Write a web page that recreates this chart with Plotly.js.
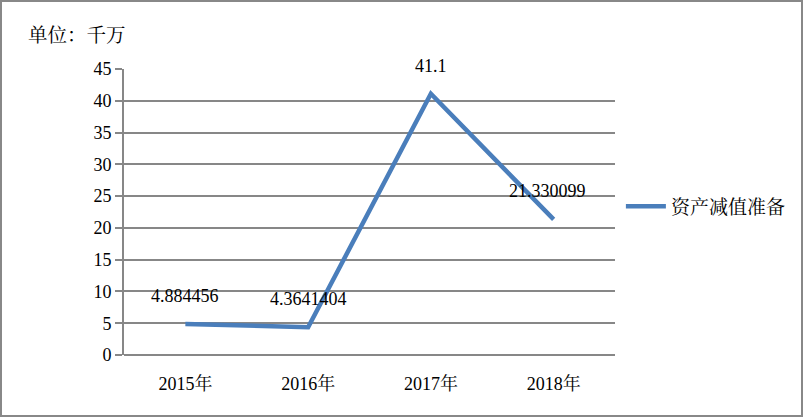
<!DOCTYPE html>
<html><head><meta charset="utf-8">
<script src="https://cdn.plot.ly/plotly-3.0.1.min.js"></script>
<style>
html,body{margin:0;padding:0;background:#fff;}
#wrap{position:relative;width:803px;height:417px;}
#chart{width:803px;height:417px;}
#border{position:absolute;left:0;top:0;width:803px;height:417px;box-sizing:border-box;border:2px solid #888;pointer-events:none;}
</style></head>
<body>
<div id="wrap"><div id="chart"></div><div id="border"></div></div>
<script>
var categories = ["2015年", "2016年", "2017年", "2018年"];
var values = [4.884456, 4.3641404, 41.1, 21.330099];
var valueLabels = ["4.884456", "4.3641404", "41.1", "21.330099"];
var seriesName = "资产减值准备";
var unitTitle = "单位：千万";
var yTicks = [0, 5, 10, 15, 20, 25, 30, 35, 40, 45];

var font = "Times New Roman, Liberation Serif, Noto Serif CJK SC, Noto Sans CJK SC, serif";
var grid = "#878787";

var trace = {
  x: categories, y: values, type: "scatter", mode: "lines", name: seriesName,
  line: {color: "#4a7ebb", width: 4.5}
};

var anns = categories.map(function(c, i){
  return {x: c, y: values[i], xref: "x", yref: "y", text: valueLabels[i], showarrow: false,
    yshift: 28, xshift: (i === 3 ? -6 : 0),
    font: {family: font, size: 18, color: "#000"}};
});

var layout = {
  width: 803, height: 417,
  margin: {l: 124, r: 188, t: 69, b: 62},
  paper_bgcolor: "#fff", plot_bgcolor: "#fff",
  font: {family: font, size: 18, color: "#000"},
  title: {text: unitTitle, x: 28/803, xanchor: "left", xref: "container", y: 1 - 35/417, yanchor: "middle", yref: "container",
    font: {family: font, size: 19.5, color: "#000"}},
  xaxis: {type: "category", range: [-0.5, 3.5], showgrid: false, zeroline: false, showline: false,
    ticks: "", tickfont: {family: font, size: 18, color: "#000"}, ticklabelstandoff: 16, fixedrange: true},
  yaxis: {range: [0, 45], tickvals: yTicks, showgrid: true, gridcolor: grid, gridwidth: 2,
    zeroline: true, zerolinecolor: grid, zerolinewidth: 2,
    showline: true, linecolor: grid, linewidth: 2, ticks: "outside", ticklen: 7, tickwidth: 2, tickcolor: grid,
    tickfont: {family: font, size: 18, color: "#000"}, fixedrange: true},
  showlegend: true,
  legend: {x: 1.012, xanchor: "left", xref: "paper", y: 0.52, yanchor: "middle", font: {family: font, size: 19, color: "#000"},
    bgcolor: "rgba(0,0,0,0)", itemwidth: 40},
  annotations: anns
};

Plotly.newPlot("chart", [trace], layout, {displayModeBar: false, staticPlot: true});
</script>
</body></html>
